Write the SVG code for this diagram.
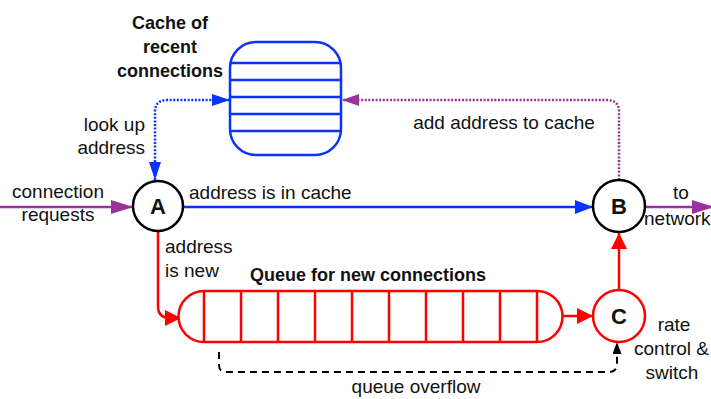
<svg xmlns="http://www.w3.org/2000/svg" width="711" height="399" viewBox="0 0 711 399">
<style>
text{font-family:"Liberation Sans",Arial,sans-serif;font-size:19px;fill:#111}
.b{font-weight:bold;font-size:18px}
.lbl{font-weight:bold;font-size:22px}
.node{fill:#fff;stroke-width:2.5}
</style>
<defs>
<marker id="ab" markerUnits="userSpaceOnUse" markerWidth="20" markerHeight="16" refX="18" refY="7" orient="auto-start-reverse"><path d="M0,0 L18,7 L0,14 Z" fill="#0a33ff"/></marker>
<marker id="abs" markerUnits="userSpaceOnUse" markerWidth="20" markerHeight="14" refX="18" refY="6" orient="auto-start-reverse"><path d="M0,0 L18,6 L0,12 Z" fill="#0a33ff"/></marker>
<marker id="ar" markerUnits="userSpaceOnUse" markerWidth="20" markerHeight="18" refX="16" refY="8" orient="auto"><path d="M0,0 L16,8 L0,16 Z" fill="#ff0000"/></marker>
<marker id="ap" markerUnits="userSpaceOnUse" markerWidth="24" markerHeight="16" refX="22" refY="7" orient="auto"><path d="M0,0 L22,7 L0,14 Z" fill="#993399"/></marker>
<marker id="aps" markerUnits="userSpaceOnUse" markerWidth="20" markerHeight="14" refX="17" refY="6" orient="auto"><path d="M0,0 L17,6 L0,12 Z" fill="#993399"/></marker>
<marker id="ak" markerUnits="userSpaceOnUse" markerWidth="14" markerHeight="12" refX="12" refY="4.5" orient="auto"><path d="M0,0 L12,4.5 L0,9 Z" fill="#000"/></marker>
</defs>

<g id="connectors" fill="none">
<path d="M0,207 H133" stroke="#993399" stroke-width="2.5" marker-end="url(#ap)"/>
<path d="M645,207 H714" stroke="#993399" stroke-width="2.5" marker-end="url(#ap)"/>
<path d="M183,207 H593" stroke="#0a33ff" stroke-width="2.5" marker-end="url(#ab)"/>
<path d="M155,180 V112 Q155,100 167,100 H230" stroke="#0a33ff" stroke-width="2.5" stroke-dasharray="2 1.6" marker-start="url(#abs)" marker-end="url(#abs)"/>
<path d="M619,180 V112 Q619,100 607,100 H342" stroke="#993399" stroke-width="2.5" stroke-dasharray="2 1.6" marker-end="url(#aps)"/>
<path d="M158,231 V306 Q158,318 170,318 H181" stroke="#ff0000" stroke-width="2.5" marker-end="url(#ar)"/>
<path d="M562,316 H593" stroke="#ff0000" stroke-width="2.5" marker-end="url(#ar)"/>
<path d="M619,290 V233" stroke="#ff0000" stroke-width="2.5" marker-end="url(#ar)"/>
<path d="M219,352 V365 Q219,372 226,372 H609 Q617,372 617,364 V342" stroke="#000" stroke-width="2" stroke-dasharray="7 5" marker-end="url(#ak)"/>
</g>

<g id="cache" fill="none" stroke="#0a33ff" stroke-width="2.5">
<rect x="230" y="42" width="111" height="113" rx="26" ry="26" fill="#fff"/>
<path d="M230,63 H341 M230,80 H341 M230,97 H341 M230,114 H341 M230,131 H341"/>
</g>
<g id="cache-label">
<text class="b" x="170" y="29" text-anchor="middle">Cache of</text>
<text class="b" x="170" y="53" text-anchor="middle">recent</text>
<text class="b" x="170" y="77" text-anchor="middle">connections</text>
</g>

<g id="queue" fill="none" stroke="#ff0000" stroke-width="2.5">
<path d="M204,291 H537 A25.5,25.5 0 0 1 537,342 H204 A25.5,25.5 0 0 1 204,291 Z" fill="#fff"/>
<path d="M204,291 V342 M241,291 V342 M278,291 V342 M315,291 V342 M352,291 V342 M389,291 V342 M426,291 V342 M463,291 V342 M500,291 V342 M537,291 V342"/>
</g>
<g id="queue-label">
<text class="b" x="368" y="281" text-anchor="middle">Queue for new connections</text>
</g>

<g id="nodeA">
<circle class="node" cx="158" cy="206" r="25" stroke="#000"/>
<text class="lbl" x="158" y="214" text-anchor="middle">A</text>
</g>
<g id="nodeB">
<circle class="node" cx="619" cy="206" r="26" stroke="#000"/>
<text class="lbl" x="619" y="214" text-anchor="middle">B</text>
</g>
<g id="nodeC">
<circle class="node" cx="619" cy="316" r="26" stroke="#ff0000"/>
<text class="lbl" x="619" y="324" text-anchor="middle">C</text>
</g>

<g id="labels">
<text x="58" y="198" text-anchor="middle">connection</text>
<text x="58" y="221" text-anchor="middle">requests</text>
<text x="145" y="131" text-anchor="end">look up</text>
<text x="145" y="154" text-anchor="end">address</text>
<text x="189" y="199">address is in cache</text>
<text x="504" y="129" text-anchor="middle">add address to cache</text>
<text x="673" y="199">to</text>
<text x="644" y="225">network</text>
<text x="165" y="253">address</text>
<text x="165" y="277">is new</text>
<text x="674" y="331" text-anchor="middle">rate</text>
<text x="634" y="355">control &amp;</text>
<text x="672" y="379" text-anchor="middle">switch</text>
<text x="416" y="393" text-anchor="middle">queue overflow</text>
</g>
</svg>
